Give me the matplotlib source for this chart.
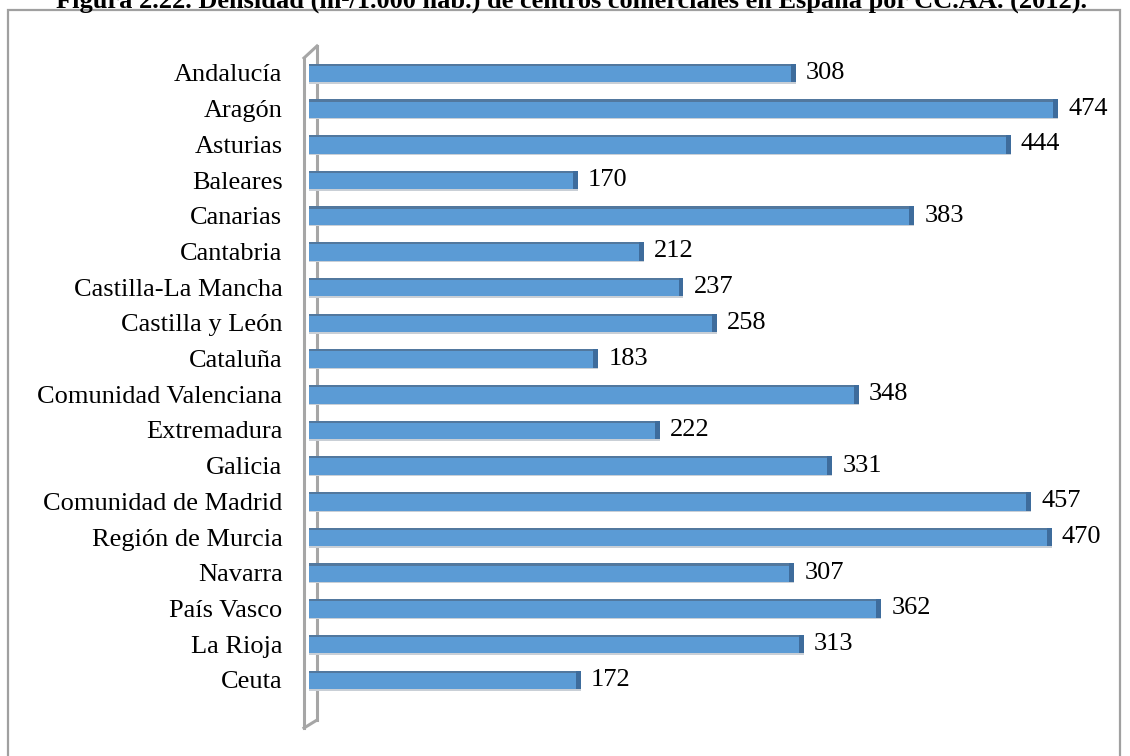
import matplotlib
matplotlib.use("Agg")
import matplotlib.pyplot as plt
from matplotlib.patches import Rectangle
from matplotlib.lines import Line2D

regions = ["Andalucía", "Aragón", "Asturias", "Baleares", "Canarias", "Cantabria",
           "Castilla-La Mancha", "Castilla y León", "Cataluña", "Comunidad Valenciana",
           "Extremadura", "Galicia", "Comunidad de Madrid", "Región de Murcia",
           "Navarra", "País Vasco", "La Rioja", "Ceuta"]
values = [308, 474, 444, 170, 383, 212, 237, 258, 183, 348, 222, 331, 457, 470,
          307, 362, 313, 172]
title = "Figura 2.22. Densidad (m²/1.000 hab.) de centros comerciales en España por CC.AA. (2012)."

plt.rcParams['font.family'] = ['Liberation Serif', 'DejaVu Serif']

W, H = 1130, 756
fig = plt.figure(figsize=(W / 100, H / 100), dpi=100)

# axes: left 304px, right 1099px, top 46px, bottom 728px
ax = fig.add_axes([304 / W, 1 - 728 / H, (1099 - 304) / W, (728 - 46) / H])
ax.set_xlim(-3.2, 500)
ax.set_ylim(18.35, -0.756)

ypos = list(range(len(values)))
bar_h = 0.52
main = "#5B9BD5"
dark_top = "#52789E"
dark_end = "#3E6C9C"
ax.barh(ypos, values, height=bar_h, color=main, zorder=3, left=0)
# 3D effect: top darker strip, bottom shadow and right-end face
ax.barh([y - bar_h / 2 + 0.03 for y in ypos], values, height=0.06, color=dark_top, zorder=4)
ax.barh([y + bar_h / 2 + 0.02 for y in ypos], values, height=0.04, color="#C9CFD6", zorder=2)
ax.barh(ypos, [3.0] * len(values), left=[v - 3.0 for v in values], height=bar_h,
        color=dark_end, zorder=5)

for y, v in zip(ypos, values):
    ax.text(v + 6.5, y, str(v), va="center", ha="left", fontsize=19, color="black", zorder=6)

ax.set_yticks(ypos)
ax.set_yticklabels(regions, fontsize=19)
ax.tick_params(axis="y", length=0, pad=15.5)
ax.set_xticks([])
for s in ax.spines.values():
    s.set_visible(False)

# 3D wall outline
wx = 13 / 795
wall_col = "#A6A6A6"
for xs, ys in [([0, 0], [0, 1 - 12 / 682]),
               ([wx, wx], [8 / 682, 1]),
               ([0, wx], [1 - 12 / 682, 1]),
               ([0, wx], [0, 8 / 682])]:
    ax.add_line(Line2D(xs, ys, transform=ax.transAxes, color=wall_col, lw=2.2,
                       zorder=1, clip_on=False))

# outer frame
fig.patches.append(Rectangle((8 / W, -0.05), (1120 - 8) / W, 1 - 10 / H + 0.05,
                             transform=fig.transFigure, fill=False,
                             edgecolor="#A0A0A0", lw=1.6))

fig.text(571 / W, 1 - 8 / H, title, ha="center", va="baseline", fontsize=19,
         fontweight="bold")

fig.savefig("out.png", dpi=100)
